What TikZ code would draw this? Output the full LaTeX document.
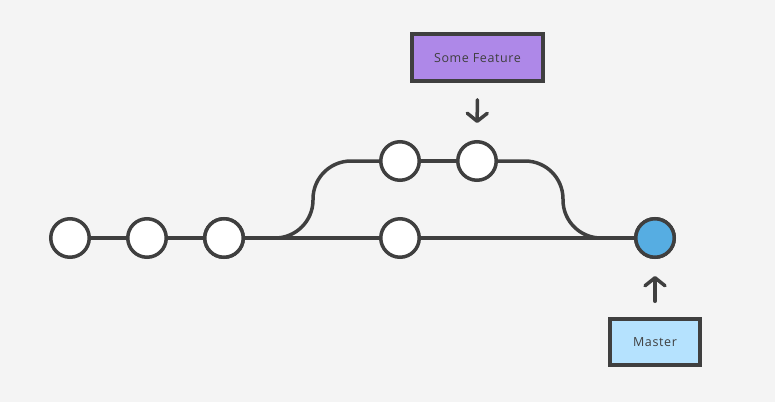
\documentclass[tikz,border=0pt]{standalone}
\usepackage{fontspec}
\setmainfont{Open Sans}
\usetikzlibrary{arrows.meta}
\definecolor{bg}{HTML}{F4F4F4}
\definecolor{ink}{HTML}{3F3F3F}
\definecolor{featfill}{HTML}{AE88E8}
\definecolor{mastfill}{HTML}{B5E2FE}
\definecolor{headfill}{HTML}{56ADE2}
\begin{document}
\begin{tikzpicture}[x=1pt,y=-1pt,
  commit/.style={circle,draw=ink,line width=3.5pt,fill=white,minimum size=38.5pt,inner sep=0pt},
  label box/.style={draw=ink,line width=3.5pt,inner sep=0pt,text=ink,text depth=0pt,font=\fontsize{12.5}{14}\selectfont\addfontfeatures{LetterSpace=5}},
  link/.style={draw=ink,line width=3.5pt},
  pointer/.style={draw=ink,line width=3.5pt,line cap=round,-{Straight Barb[length=8pt,width=20pt,line join=round,line cap=round]}}]
\fill[bg] (0,0) rectangle (775,402);
\useasboundingbox (0,0) rectangle (775,402);
% main line commits
\node[commit] (c1) at (70,238) {};
\node[commit] (c2) at (147,238) {};
\node[commit] (c3) at (224,238) {};
\node[commit] (c4) at (400,238) {};
\node[commit,fill=headfill] (m) at (655,238) {};
% feature commits
\node[commit] (f1) at (400,161) {};
\node[commit] (f2) at (477,161) {};
% labels
\node[label box,fill=featfill,minimum width=131pt,minimum height=47pt] (sf) at (477.5,57.5) {Some Feature};
\node[label box,fill=mastfill,minimum width=90pt,minimum height=46pt] (ms) at (655,342) {Master};
% connectors
\draw[link] (c1) -- (c2);
\draw[link] (c2) -- (c3);
\draw[link] (c3) -- (c4);
\draw[link] (c4) -- (m);
\draw[link,rounded corners=38pt] (c3.east) -- (313,238) -- (313,161) -- (f1.west);
\draw[link] (f1) -- (f2);
\draw[link,rounded corners=38pt] (f2.east) -- (563,161) -- (563,238) -- (m.west);
% redraw nodes on top of the joining curves
\node[commit] at (c3) {};
\node[commit,fill=headfill] at (m) {};
% pointers
\draw[pointer,shorten <=17pt,shorten >=17pt] (sf.south) -- (f2.north);
\draw[pointer,shorten <=16pt,shorten >=17pt] (ms.north) -- (m.south);
\end{tikzpicture}
\end{document}
